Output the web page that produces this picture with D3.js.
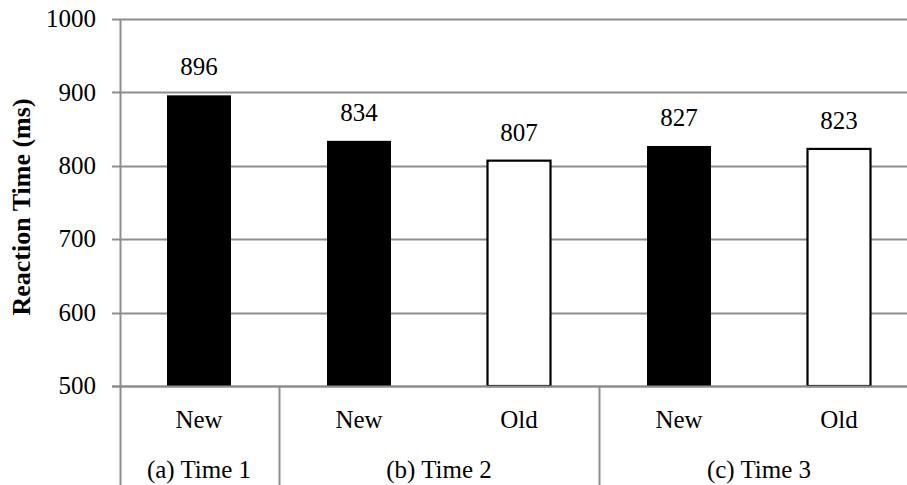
<!DOCTYPE html>
<html>
<head>
<meta charset="utf-8">
<script src="https://cdn.jsdelivr.net/npm/d3@7"></script>
<style>
  html, body { margin: 0; padding: 0; background: #fff; }
</style>
</head>
<body>
<svg id="chart" width="907" height="485" font-family="Liberation Serif"></svg>
<script>
const categories = ["New", "New", "Old", "New", "Old"];
const groupIndex = [0, 1, 1, 2, 2];
const groups = ["(a) Time 1", "(b) Time 2", "(c) Time 3"];
const values = [896, 834, 807, 827, 823];
const yTicks = [500, 600, 700, 800, 900, 1000];
const yTitle = "Reaction Time (ms)";

(function () {
const W = 907, H = 485;
const FS = 25;
const svg = d3.select("#chart");
const axisX = 120.5, plotLeft = 119, plotRight = 919;
const plotTop = 19, plotBottom = 386;

const x = d3.scaleBand()
  .domain(d3.range(categories.length))
  .range([plotLeft, plotRight])
  .paddingInner(0.6)
  .paddingOuter(0.3);
const y = d3.scaleLinear().domain([500, 1000]).range([plotBottom, plotTop]);

const grid = "#8e8e8e";

// gridlines
svg.append("g").selectAll("line").data(yTicks).join("line")
  .attr("x1", 112).attr("x2", W)
  .attr("y1", d => Math.round(y(d)) + 0.5).attr("y2", d => Math.round(y(d)) + 0.5)
  .attr("stroke", grid).attr("stroke-width", 2);

// y axis line (extends through category label area)
svg.append("line")
  .attr("x1", axisX).attr("x2", axisX).attr("y1", plotTop).attr("y2", H)
  .attr("stroke", grid).attr("stroke-width", 2);

// y tick labels
svg.append("g").selectAll("text").data(yTicks).join("text")
  .attr("x", 96).attr("y", d => y(d))
  .attr("dy", "0.33em")
  .attr("text-anchor", "end")
  .attr("font-size", FS)
  .attr("fill", "#000")
  .text(d => d);

// y title
svg.append("text")
  .attr("transform", `translate(30, 207) rotate(-90)`)
  .attr("text-anchor", "middle")
  .attr("font-size", 26)
  .attr("font-weight", "bold")
  .attr("fill", "#000")
  .text(yTitle);

// bars
const bars = values.map((v, i) => ({ v, i, cat: categories[i] }));
svg.append("g").selectAll("rect").data(bars).join("rect")
  .attr("x", d => x(d.i) + (d.cat === "Old" ? 0.5 : 0))
  .attr("y", d => y(d.v))
  .attr("width", d => x.bandwidth() - (d.cat === "Old" ? 1 : 0))
  .attr("height", d => y(500) - y(d.v))
  .attr("fill", d => d.cat === "New" ? "#000" : "#fff")
  .attr("stroke", d => d.cat === "Old" ? "#000" : "none")
  .attr("stroke-width", 2.2);

// value labels
svg.append("g").selectAll("text").data(bars).join("text")
  .attr("x", d => x(d.i) + x.bandwidth() / 2)
  .attr("y", d => y(d.v) - 20)
  .attr("text-anchor", "middle")
  .attr("font-size", FS)
  .attr("fill", "#000")
  .text(d => d.v);

// bottom axis line
svg.append("line")
  .attr("x1", 112).attr("x2", W).attr("y1", plotBottom + 0.5).attr("y2", plotBottom + 0.5)
  .attr("stroke", grid).attr("stroke-width", 2);

// category labels
svg.append("g").selectAll("text").data(bars).join("text")
  .attr("x", d => x(d.i) + x.bandwidth() / 2)
  .attr("y", 428)
  .attr("text-anchor", "middle")
  .attr("font-size", FS)
  .attr("fill", "#000")
  .text(d => d.cat);

// group spans
const spans = groups.map((g, gi) => {
  const idx = groupIndex.map((v, i) => v === gi ? i : -1).filter(i => i >= 0);
  const x0 = x(idx[0]) - x.step() * x.paddingOuter();
  const x1 = x(idx[idx.length - 1]) + x.bandwidth() + x.step() * x.paddingOuter();
  return { g, x0, x1 };
});

// group separators
svg.append("g").selectAll("line").data(spans.slice(0, -1)).join("line")
  .attr("x1", d => Math.round(d.x1) + 0.5).attr("x2", d => Math.round(d.x1) + 0.5)
  .attr("y1", plotBottom).attr("y2", H)
  .attr("stroke", grid).attr("stroke-width", 2);

svg.append("g").selectAll("text").data(spans).join("text")
  .attr("x", d => (d.x0 + d.x1) / 2)
  .attr("y", 478)
  .attr("text-anchor", "middle")
  .attr("font-size", FS)
  .attr("fill", "#000")
  .text(d => d.g);
})();
</script>
</body>
</html>
